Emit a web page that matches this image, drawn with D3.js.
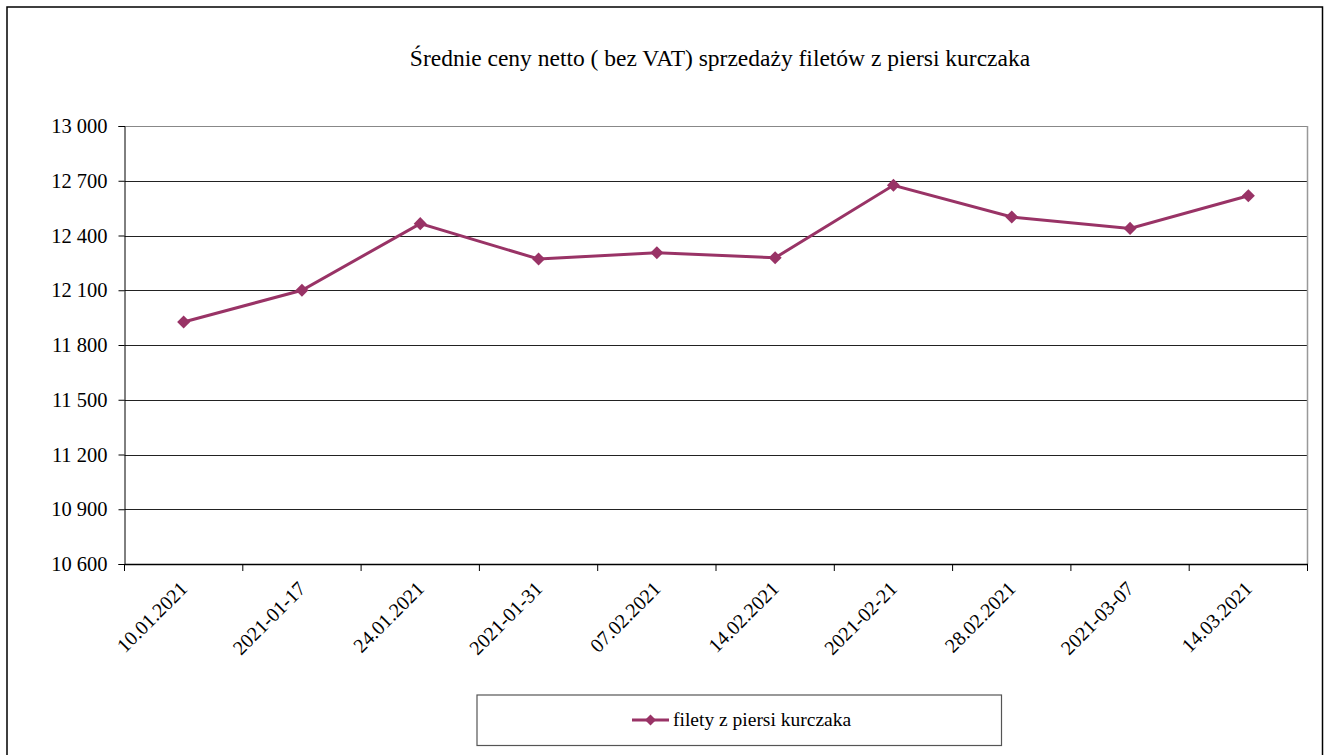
<!DOCTYPE html>
<html>
<head>
<meta charset="utf-8">
<script src="https://cdn.jsdelivr.net/npm/d3@7"></script>
<style>
  body { margin: 0; background: #fff; }
  svg text { font-family: "Liberation Serif", "Times New Roman", Tinos, serif; }
</style>
</head>
<body>
<div id="chart"></div>
<script>
// chart data
var categories = ["10.01.2021", "2021-01-17", "24.01.2021", "2021-01-31", "07.02.2021",
  "14.02.2021", "2021-02-21", "28.02.2021", "2021-03-07", "14.03.2021"];
var values = [11926, 12100, 12465, 12271, 12306, 12278, 12675, 12501, 12439, 12618];
var yTicks = [10600, 10900, 11200, 11500, 11800, 12100, 12400, 12700, 13000];
var seriesName = "filety z piersi kurczaka";
var title = "Średnie ceny netto ( bez VAT) sprzedaży filetów z piersi kurczaka";

function init() {
  var W = 1327, H = 755;
  var m = { left: 124.5, right: 1307.5, top: 126, bottom: 564 };
  var lineColor = "#993366";

  var svg = d3.select("#chart").append("svg").attr("width", W).attr("height", H);

  // outer chart border
  svg.append("rect")
    .attr("x", 7).attr("y", 7)
    .attr("width", 1315.5).attr("height", 760)
    .attr("fill", "none").attr("stroke", "#000").attr("stroke-width", 1.5);

  // title
  svg.append("text")
    .attr("x", 720).attr("y", 66)
    .attr("text-anchor", "middle")
    .attr("font-size", 23.5)
    .text(title);

  var x = d3.scaleBand().domain(categories).range([m.left, m.right]);
  var y = d3.scaleLinear().domain([10600, 13000]).range([m.bottom, m.top]);

  // horizontal gridlines
  svg.append("g")
    .selectAll("line")
    .data(yTicks.slice(1))
    .enter()
    .append("line")
    .attr("x1", m.left).attr("x2", m.right)
    .attr("y1", (d) => Math.round(y(d)) + 0.5)
    .attr("y2", (d) => Math.round(y(d)) + 0.5)
    .attr("stroke", (d) => d === 13000 ? "#888" : "#222")
    .attr("stroke-width", 1);

  // right border of plot
  svg.append("line")
    .attr("x1", m.right).attr("x2", m.right)
    .attr("y1", m.top).attr("y2", m.bottom)
    .attr("stroke", "#999").attr("stroke-width", 1.5);

  // y axis
  var fmt = (d) => d3.format(",")(d).replace(",", " ");
  var yAxis = svg.append("g")
    .attr("transform", "translate(" + m.left + ",0)")
    .call(d3.axisLeft(y).tickValues(yTicks).tickFormat(fmt).tickSize(6).tickPadding(11));
  yAxis.attr("font-family", null);
  yAxis.selectAll("text").attr("font-size", 20.5).attr("fill", "#000");
  yAxis.selectAll("line, path").attr("stroke", "#000");

  // x axis
  var xAxis = svg.append("g")
    .attr("transform", "translate(0," + m.bottom + ")")
    .call(d3.axisBottom(x).tickSize(0).tickFormat(""));
  xAxis.select("path").attr("stroke", "#000").attr("stroke-width", 1.5);

  // tick marks between categories
  var bounds = categories.map((c) => x(c)).concat([m.right]);
  svg.append("g")
    .selectAll("line")
    .data(bounds)
    .enter()
    .append("line")
    .attr("x1", (d) => d).attr("x2", (d) => d)
    .attr("y1", m.bottom).attr("y2", m.bottom + 7)
    .attr("stroke", "#000");

  // rotated category labels
  svg.append("g")
    .selectAll("text")
    .data(categories)
    .enter()
    .append("text")
    .attr("transform", (d) => "translate(" + (x(d) + x.bandwidth() / 2 + 5) + "," + (m.bottom + 26) + ") rotate(-45)")
    .attr("text-anchor", "end")
    .attr("font-size", 20)
    .text((d) => d);

  // series line
  var line = d3.line()
    .x((d, i) => x(categories[i]) + x.bandwidth() / 2)
    .y((d) => y(d));
  svg.append("path")
    .datum(values)
    .attr("d", line)
    .attr("fill", "none")
    .attr("stroke", lineColor)
    .attr("stroke-width", 3);

  // diamond markers (rotated squares)
  var marker = d3.symbol().type(d3.symbolSquare).size(85);
  svg.append("g")
    .selectAll("path")
    .data(values)
    .enter()
    .append("path")
    .attr("d", marker)
    .attr("transform", (d, i) => "translate(" + (x(categories[i]) + x.bandwidth() / 2) + "," + y(d) + ") rotate(45)")
    .attr("fill", lineColor);

  // legend
  var lg = svg.append("g");
  lg.append("rect")
    .attr("x", 477).attr("y", 695)
    .attr("width", 524.5).attr("height", 50.5)
    .attr("fill", "#fff").attr("stroke", "#555").attr("stroke-width", 1.2);
  lg.append("line")
    .attr("x1", 632).attr("x2", 669)
    .attr("y1", 720).attr("y2", 720)
    .attr("stroke", lineColor).attr("stroke-width", 3);
  lg.append("path")
    .attr("d", d3.symbol().type(d3.symbolSquare).size(60))
    .attr("transform", "translate(650.5,720) rotate(45)")
    .attr("fill", lineColor);
  lg.append("text")
    .attr("x", 673).attr("y", 726)
    .attr("font-size", 19.5)
    .text(seriesName);
}

window.onload = init;
</script>
</body>
</html>
